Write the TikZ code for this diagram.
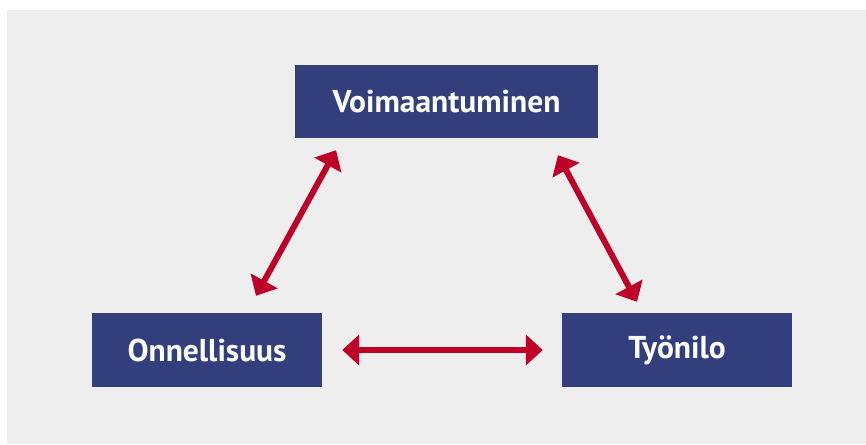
\documentclass[tikz,border=0pt]{standalone}
\usepackage{fontspec}
\setmainfont{PT Sans}
\usetikzlibrary{arrows.meta}
\definecolor{boxblue}{HTML}{333F7D}
\definecolor{arrowred}{HTML}{BE0028}
\definecolor{bggray}{HTML}{EEEEEE}
\tikzset{
	termbox/.style={fill=boxblue,text=white,font=\fontsize{31.5}{36}\selectfont\bfseries,
		minimum width=230pt,minimum height=74pt,inner sep=0pt},
	link/.style={arrowred,line width=6pt,{Triangle[length=17pt,width=30pt]}-{Triangle[length=17pt,width=30pt]}}
}
\begin{document}
\begin{tikzpicture}[x=1pt,y=-1pt]
		\useasboundingbox (0,0) rectangle (866,444);
		\fill[bggray] (7,10) rectangle (866,444);
		\node[termbox,minimum width=303pt,minimum height=73pt] (voima) at (446.5,101.5) {Voimaantuminen};
		\node[termbox] (onni) at (207,350) {Onnellisuus};
		\node[termbox] (tyo) at (677,350) {Työnilo};
		\draw[link] ([xshift=49pt,yshift=17pt]onni.north) -- ([xshift=-110.5pt,yshift=-12pt]voima.south);
		\draw[link] ([xshift=111.5pt,yshift=-17pt]voima.south) -- ([xshift=-40pt,yshift=11pt]tyo.north);
		\draw[link] ([xshift=20pt]onni.east) -- ([xshift=-19pt]tyo.west);
	\end{tikzpicture}
\end{document}
